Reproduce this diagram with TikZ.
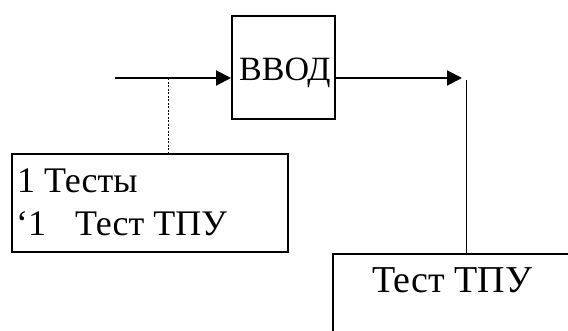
\documentclass[tikz,border=0pt]{standalone}
\usepackage{fontspec}
\setmainfont{Liberation Serif}
\usetikzlibrary{arrows.meta}
\begin{document}
\begin{tikzpicture}[x=1pt,y=-1pt,
  frame/.style={draw=black,line width=2pt,inner sep=0pt,anchor=north west},
  label/.style={inner sep=0pt,anchor=base west,font=\fontsize{36}{40}\selectfont},
  flow/.style={line width=2pt,-{Triangle[length=15pt,width=15pt]}},
  link/.style={line width=0.9pt},
  hint/.style={line width=0.9pt,dash pattern=on 2pt off 1.5pt}]
\clip (0,0) rectangle (568,330);
\fill[white] (0,0) rectangle (568,330);

% boxes
\node[frame,minimum width=103pt,minimum height=103pt] (vvod) at (231,15) {};
\node[frame,minimum width=276pt,minimum height=98pt] (tests) at (11,153) {};
\node[frame,minimum width=270pt,minimum height=120pt] (res) at (332,253) {};

% texts
\node[label,font=\fontsize{34}{40}\selectfont] (vvodtxt) at (239,80) {ВВОД};
\node[label] (line1) at (17,192) {1 Тесты};
\node[label] (line2) at (16,235) {‘1\hspace{29pt}Тест ТПУ};
\node[label,font=\fontsize{38}{40}\selectfont] (restxt) at (372,292) {Тест ТПУ};

% connectors
\coordinate (src) at (115,78);
\coordinate (tap) at (168,78);
\coordinate (dst) at (462,78);
\coordinate (drop) at (466,80);
\draw[flow] (src) -- (vvod.west |- src);
\draw[flow] (vvod.east |- dst) -- (dst);
\draw[hint] (tap) -- (tap |- tests.north);
\draw[link] (drop) -- (drop |- res.north);
\end{tikzpicture}
\end{document}
